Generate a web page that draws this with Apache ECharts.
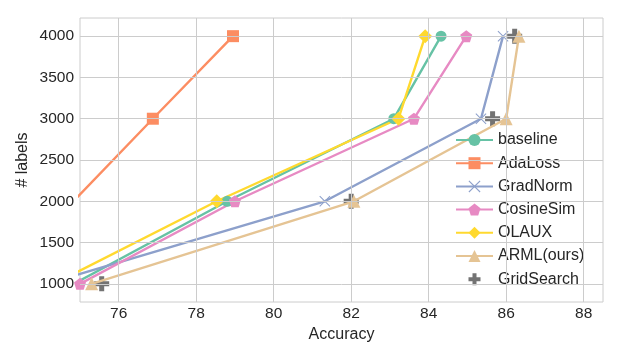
<!DOCTYPE html>
<html>
<head>
<meta charset="utf-8">
<script src="https://cdn.jsdelivr.net/npm/echarts@6/dist/echarts.min.js"></script>
<style>
  html, body { margin: 0; padding: 0; background: #fff; }
  #chart { width: 620px; height: 360px; }
</style>
</head>
<body>
<div id="chart"></div>
<script>
  // number of labels (y) for each run
  var labels = [1000, 2000, 3000, 4000];
  // accuracy (x) per method
  var baseline = [74.84, 78.8, 83.1, 84.32];
  var adaLoss = [72.9, 74.83, 76.88, 78.95];
  var gradNorm = [74.14, 81.32, 85.35, 85.92];
  var cosineSim = [75.0, 79.0, 83.62, 84.97];
  var olaux = [74.33, 78.53, 83.22, 83.91];
  var arml = [75.3, 82.07, 86.0, 86.33];
  var gridSearch = [75.56, 82.0, 85.65, 86.22];
  // tick labels
  var xTicks = [76, 78, 80, 82, 84, 86, 88];
  var yTicks = [1000, 1500, 2000, 2500, 3000, 3500, 4000];

  var textColor = '#262626';
  var gridColor = '#cccccc';
  var font = 'Liberation Sans, Arial, sans-serif';

  var plusPath = 'path://M-1,-3H1V-1H3V1H1V3H-1V1H-3V-1H-1Z';
  var crossPath = 'path://M-1,-0.87L-0.87,-1L0,-0.13L0.87,-1L1,-0.87L0.13,0L1,0.87L0.87,1L0,0.13L-0.87,1L-1,0.87L-0.13,0Z';
  var pentaPath = 'path://M0,-1L0.951,-0.309L0.588,0.809L-0.588,0.809L-0.951,-0.309Z';

  function pairs(acc) {
    return acc.map(function (a, i) { return [a, labels[i]]; });
  }

  function lineSeries(name, acc, color, symbol, size) {
    return {
      name: name,
      type: 'line',
      z: 3,
      data: pairs(acc),
      symbol: symbol,
      symbolSize: size,
      clip: true,
      lineStyle: { color: color, width: 2.4 },
      itemStyle: { color: color },
      emphasis: { disabled: true }
    };
  }

  var chart = echarts.init(document.getElementById('chart'));

  chart.setOption({
    animation: false,
    textStyle: { fontFamily: font },
    grid: {
      left: 80, right: 17, top: 18, bottom: 58,
      show: true, borderColor: gridColor, borderWidth: 1
    },
    xAxis: {
      type: 'value',
      min: 75,
      max: 88.5,
      name: 'Accuracy',
      nameLocation: 'middle',
      nameGap: 23,
      nameTextStyle: { color: textColor, fontSize: 16, fontFamily: font },
      axisLine: { show: false },
      axisTick: { show: false },
      splitLine: { show: false },
      axisLabel: {
        customValues: xTicks,
        color: textColor, fontSize: 15.5, margin: 4, fontFamily: font
      }
    },
    yAxis: {
      type: 'value',
      min: 780,
      max: 4220,
      name: '# labels',
      nameLocation: 'middle',
      nameMoveOverlap: false,
      nameGap: 49,
      nameTextStyle: { color: textColor, fontSize: 16, fontFamily: font },
      axisLine: { show: false },
      axisTick: { show: false },
      splitLine: { show: false },
      axisLabel: {
        customValues: yTicks,
        formatter: function (v) { return String(v); },
        color: textColor, fontSize: 15.5, margin: 6, fontFamily: font
      }
    },
    legend: {
      orient: 'vertical',
      left: 450,
      top: 127,
      itemWidth: 37,
      itemHeight: 15,
      itemGap: 7.2,
      textStyle: { color: textColor, fontSize: 16, fontFamily: font },
      data: ['baseline', 'AdaLoss', 'GradNorm', 'CosineSim', 'OLAUX', 'ARML(ours)', 'GridSearch']
    },
    series: [
      {
        type: 'line',
        z: 1,
        data: [],
        silent: true,
        markLine: {
          silent: true,
          symbol: 'none',
          label: { show: false },
          lineStyle: { color: gridColor, width: 1, type: 'solid' },
          data: xTicks.map(function (v) { return { xAxis: v }; })
            .concat(yTicks.map(function (v) { return { yAxis: v }; }))
        }
      },
      lineSeries('baseline', baseline, '#66c2a5', 'circle', 11),
      lineSeries('AdaLoss', adaLoss, '#fc8d62', 'rect', 12),
      lineSeries('GradNorm', gradNorm, '#8da0cb', crossPath, 11),
      lineSeries('CosineSim', cosineSim, '#e78ac3', pentaPath, 12),
      lineSeries('OLAUX', olaux, '#ffd92f', 'diamond', 14),
      lineSeries('ARML(ours)', arml, '#e5c494', 'triangle', 13),
      {
        name: 'GridSearch',
        type: 'line',
        z: 2,
        data: pairs(gridSearch),
        symbol: plusPath,
        symbolSize: 15,
        clip: true,
        lineStyle: { width: 0, opacity: 0 },
        itemStyle: { color: '#737373' },
        emphasis: { disabled: true }
      }
    ]
  });
</script>
</body>
</html>
